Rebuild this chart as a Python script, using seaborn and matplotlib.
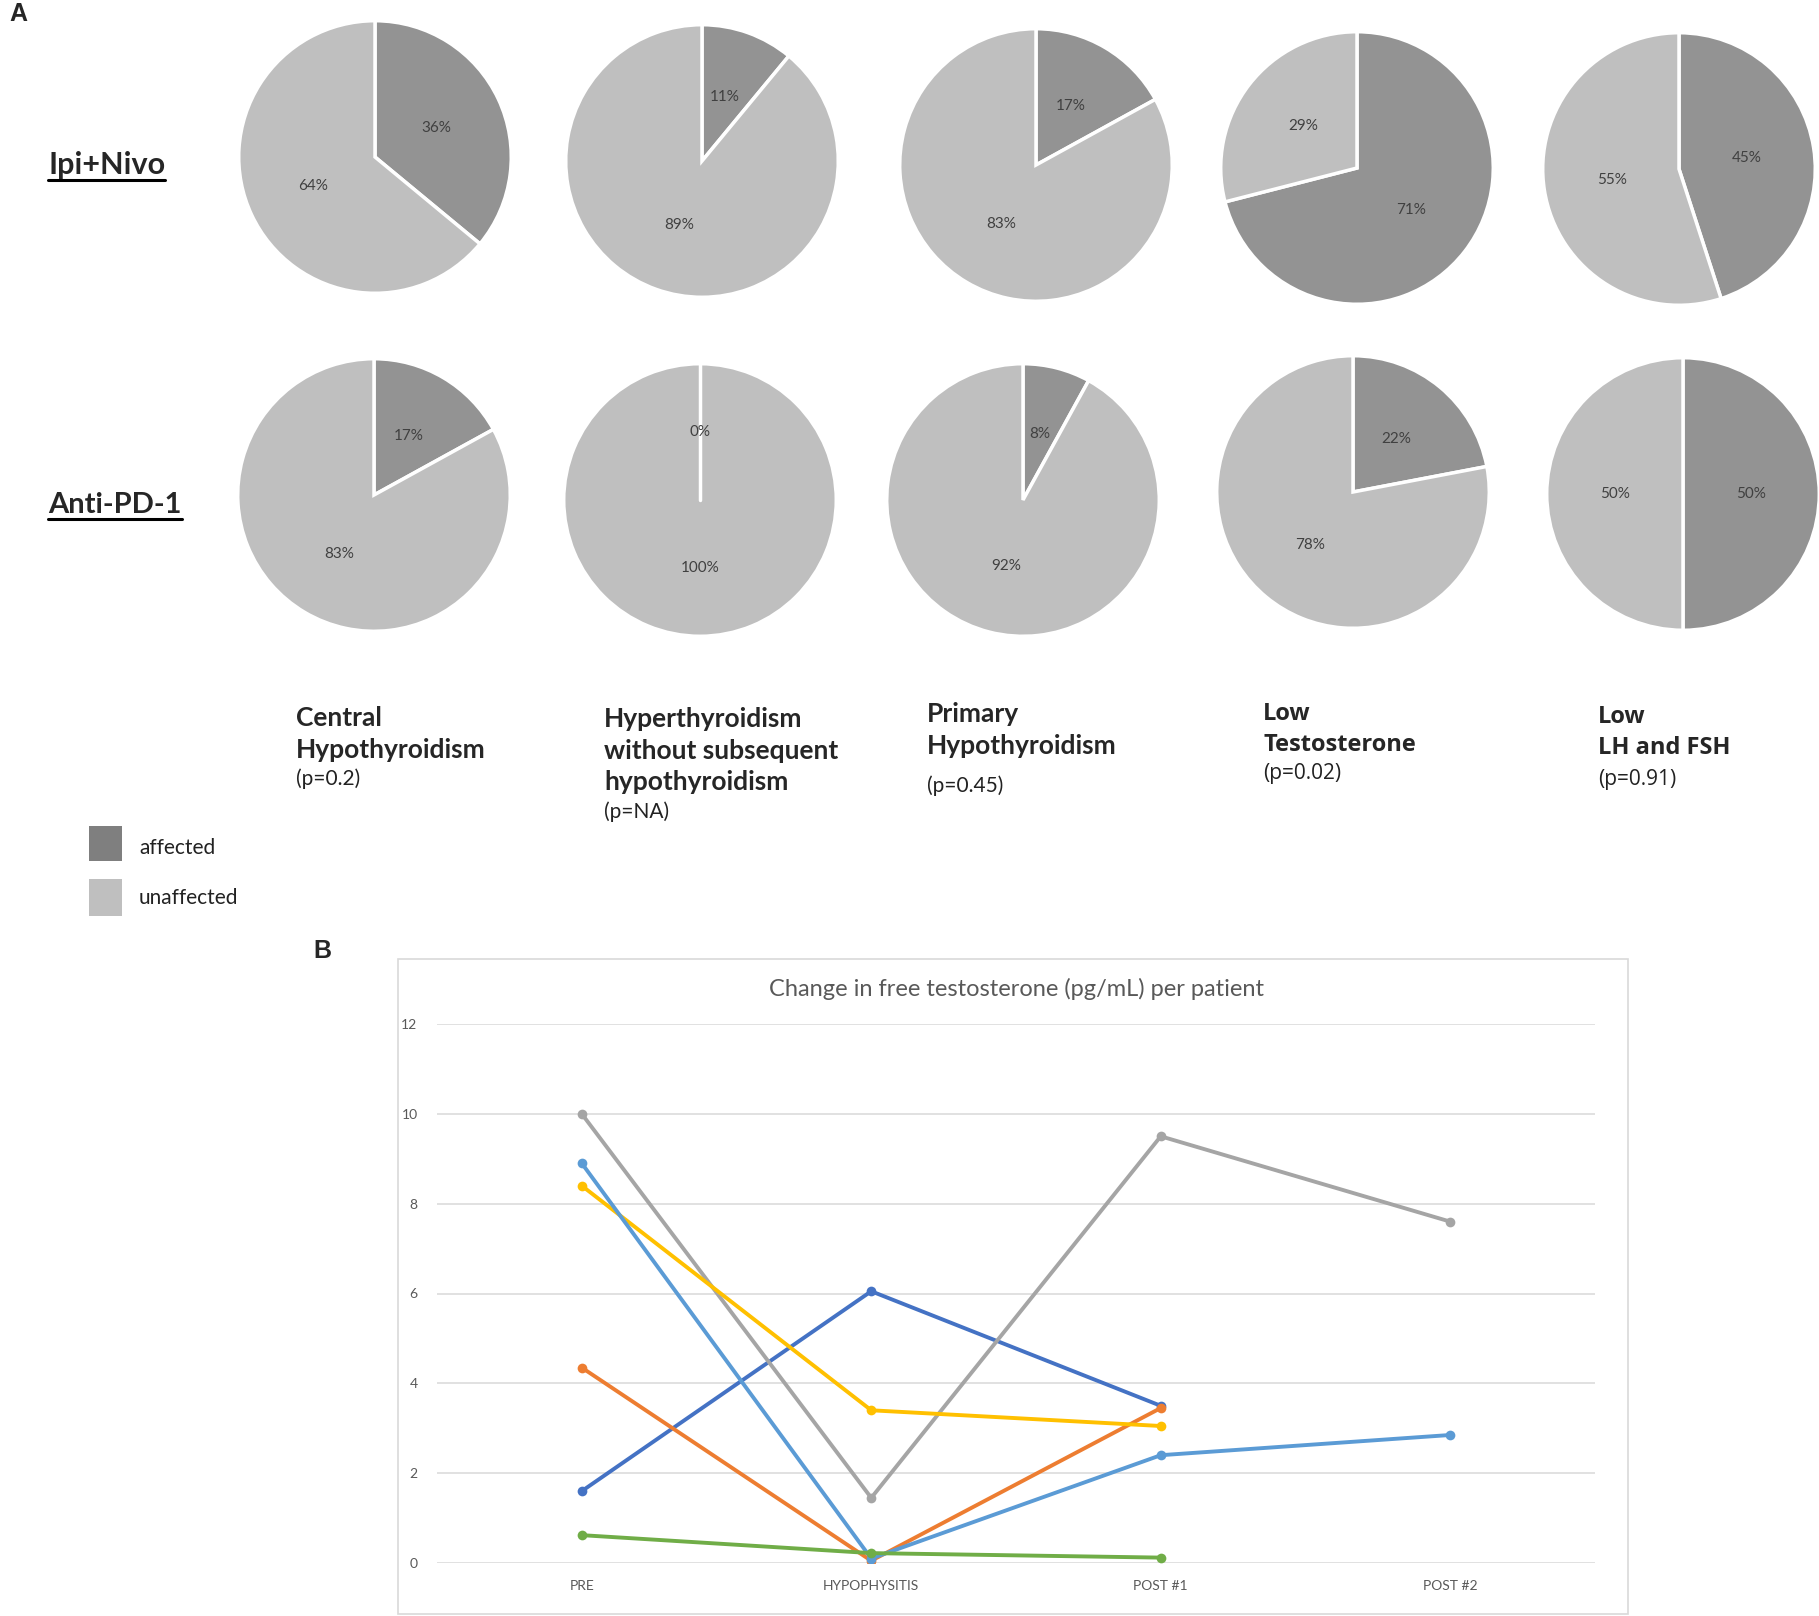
"""
Endocrine adverse events by treatment (A) and free testosterone per patient (B).
"""

import pandas as pd
import matplotlib.pyplot as plt
import seaborn as sns
from matplotlib.patches import Rectangle
from matplotlib.lines import Line2D

W, H = 1819, 1616
OUT_FILE = "out.png"

# ---- panel A data ----
CATEGORIES = [
    "Central\nHypothyroidism",
    "Hyperthyroidism\nwithout subsequent\nhypothyroidism",
    "Primary\nHypothyroidism",
    "Low\nTestosterone",
    "Low\nLH and FSH",
]
P_VALUES = ["(p=0.2)", "(p=NA)", "(p=0.45)", "(p=0.02)", "(p=0.91)"]
IPI_NIVO_AFFECTED = [36, 11, 17, 71, 45]
IPI_NIVO_UNAFFECTED = [64, 89, 83, 29, 55]
ANTI_PD1_AFFECTED = [17, 0, 8, 22, 50]
ANTI_PD1_UNAFFECTED = [83, 100, 92, 78, 50]
GROUPS = ["Ipi+Nivo", "Anti-PD-1"]

# ---- panel B data ----
TIMEPOINTS = ["PRE", "HYPOPHYSITIS", "POST #1", "POST #2"]
PATIENT_1 = [1.6, 6.05, 3.5]
PATIENT_2 = [4.35, 0.05, 3.45]
PATIENT_3 = [10.0, 1.45, 9.5, 7.6]
PATIENT_4 = [8.4, 3.4, 3.05]
PATIENT_5 = [8.9, 0.1, 2.4, 2.85]
PATIENT_6 = [0.62, 0.22, 0.12]

AFFECTED_COLOR = "#939393"
UNAFFECTED_COLOR = "#BFBFBF"
LINE_COLORS = ["#4472C4", "#ED7D31", "#A5A5A5", "#FFC000", "#5B9BD5", "#70AD47"]
TEXT_GRAY = "#595959"


def px_axes(fig, x0, y0, x1, y1):
    """Axes from pixel box (top-left origin)."""
    return fig.add_axes([x0 / W, 1 - y1 / H, (x1 - x0) / W, (y1 - y0) / H])


def draw_pie(fig, cx, cy, r, affected, unaffected):
    ax = px_axes(fig, cx - r, cy - r, cx + r, cy + r)
    wedges, _, _ = ax.pie(
        [affected, unaffected],
        colors=[AFFECTED_COLOR, UNAFFECTED_COLOR],
        startangle=90,
        counterclock=False,
        autopct=lambda p: f"{p:.0f}%",
        pctdistance=0.5,
        wedgeprops=dict(edgecolor="white", linewidth=2.5),
        textprops=dict(color="#404040", fontsize=11, family="Lato"),
    )
    if affected == 0:
        # empty slice still shows its white edge at 12 o'clock
        ax.plot([0, 0], [0, wedges[0].r], color="white", linewidth=2.5)
    ax.set_xlim(-1.02, 1.02)
    ax.set_ylim(-1.02, 1.02)
    ax.axis("off")


def underlined_text(fig, x, y, s, size):
    t = fig.text(x / W, 1 - y / H, s, fontsize=size, fontweight="bold",
                 family="Lato", va="center", ha="left")
    fig.canvas.draw()
    bb = t.get_window_extent()
    yl = bb.y0 - 1
    fig.add_artist(Line2D([bb.x0 / W, bb.x1 / W], [yl / H, yl / H],
                          color="black", linewidth=2.2))


def plot_panel_a(fig):
    fig.text(9 / W, 1 - 14 / H, "A", fontsize=18, fontweight="bold",
             va="center", ha="left", family="Liberation Sans")

    r = 139
    row1 = [(375, 157), (702, 161), (1036, 165), (1357, 168), (1679, 169)]
    row2 = [(374, 495), (700, 500), (1023, 500), (1353, 492), (1683, 494)]
    for (cx, cy), a, u in zip(row1, IPI_NIVO_AFFECTED, IPI_NIVO_UNAFFECTED):
        draw_pie(fig, cx, cy, r, a, u)
    for (cx, cy), a, u in zip(row2, ANTI_PD1_AFFECTED, ANTI_PD1_UNAFFECTED):
        draw_pie(fig, cx, cy, r, a, u)

    underlined_text(fig, 48, 165, GROUPS[0], 22)
    underlined_text(fig, 48, 505, GROUPS[1], 21)

    label_x = [296, 604, 927, 1263, 1598]
    label_top = [706, 707, 702, 702, 705]
    p_y = [779, 812, 786, 774, 780]
    fams = ["Lato", "Lato", "Lato", "Open Sans", "Open Sans"]
    sizes = [19, 19, 19, 17, 17]
    for x, yt, yp, cat, pv, fam, fs in zip(label_x, label_top, p_y,
                                          CATEGORIES, P_VALUES, fams, sizes):
        fig.text(x / W, 1 - yt / H, cat, fontsize=fs, fontweight="bold",
                 family=fam, va="top", ha="left", linespacing=1.38)
        fig.text(x / W, 1 - yp / H, pv, fontsize=15, family=fam,
                 va="center", ha="left", color="#222222")

    # legend
    for (y0, y1), col, lab, ty in [((826, 861), "#7F7F7F", "affected", 848),
                                   ((879, 916), UNAFFECTED_COLOR, "unaffected", 898)]:
        fig.add_artist(Rectangle((89 / W, 1 - y1 / H), 33 / W, (y1 - y0) / H,
                                 facecolor=col, edgecolor="none",
                                 transform=fig.transFigure))
        fig.text(139 / W, 1 - ty / H, lab, fontsize=15, family="Lato",
                 va="center", ha="left", color="#222222")


def plot_panel_b(fig):
    fig.text(313 / W, 1 - 951 / H, "B", fontsize=18, fontweight="bold",
             va="center", ha="left", family="Liberation Sans")
    fig.add_artist(Rectangle((398 / W, 1 - 1614 / H), 1230 / W, 655 / H,
                             facecolor="none", edgecolor="#D9D9D9",
                             linewidth=1.2, transform=fig.transFigure))

    series = [PATIENT_1, PATIENT_2, PATIENT_3, PATIENT_4, PATIENT_5, PATIENT_6]
    rows = []
    for i, vals in enumerate(series):
        for tp, v in zip(TIMEPOINTS, vals):
            rows.append({"patient": f"P{i + 1}", "time": tp, "value": v})
    df = pd.DataFrame(rows)
    df["time"] = pd.Categorical(df["time"], categories=TIMEPOINTS, ordered=True)
    df["pos"] = df["time"].cat.codes

    ax = px_axes(fig, 437, 1024, 1595, 1563)
    sns.lineplot(data=df, x="pos", y="value", hue="patient",
                 palette=LINE_COLORS, marker="o", markersize=7,
                 markeredgewidth=0, linewidth=2.8, sort=False,
                 legend=False, ax=ax)
    ax.set_xlim(-0.5, len(TIMEPOINTS) - 0.5)
    ax.set_ylim(0, 12)
    ax.set_xticks(range(len(TIMEPOINTS)))
    ax.set_xticklabels(TIMEPOINTS)
    ax.set_yticks(range(0, 13, 2))
    ax.set_xlabel("")
    ax.set_ylabel("")
    ax.grid(axis="y", color="#D9D9D9", linewidth=1.1)
    ax.grid(axis="x", visible=False)
    ax.set_axisbelow(True)
    for s in ax.spines.values():
        s.set_visible(False)
    ax.tick_params(axis="both", length=0, labelsize=10, labelcolor=TEXT_GRAY)
    ax.tick_params(axis="y", pad=14)
    ax.tick_params(axis="x", pad=12)
    for lab in ax.get_xticklabels() + ax.get_yticklabels():
        lab.set_family("Lato")
    ax.set_title("Change in free testosterone (pg/mL) per patient",
                 fontsize=17, color=TEXT_GRAY, family="Lato", pad=20)


def main():
    sns.set_theme(style="white")
    plt.rcParams["font.family"] = ["Lato", "DejaVu Sans"]
    fig = plt.figure(figsize=(W / 100, H / 100), dpi=100)
    fig.patch.set_facecolor("white")
    plot_panel_a(fig)
    plot_panel_b(fig)
    fig.savefig(OUT_FILE, dpi=100)
    plt.close(fig)


if __name__ == "__main__":
    main()
